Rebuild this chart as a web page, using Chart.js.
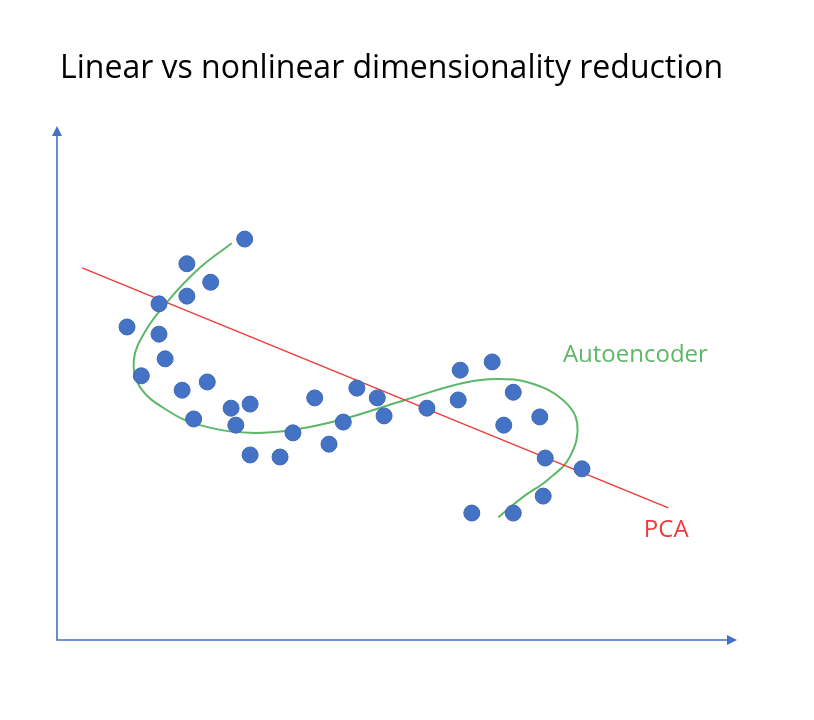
<!DOCTYPE html>
<html>
<head>
<meta charset="utf-8">
<script src="https://cdn.jsdelivr.net/npm/chart.js@4.4.1/dist/chart.umd.min.js"></script>
<style>
  html, body { margin: 0; padding: 0; background: #fff; }
  #wrap { width: 814px; height: 720px; }
</style>
</head>
<body>
<div id="wrap"><canvas id="chart" width="814" height="720"></canvas></div>
<script>
// data points (axis units 0..10)
const pointsX = [2.76, 1.91, 2.26, 1.91, 1.50, 1.03, 1.50, 1.59, 1.24, 1.84, 2.21, 2.01,
                 2.56, 2.84, 2.63, 2.84, 3.28, 3.47, 3.79, 4.00, 4.21, 4.41, 4.71, 4.81,
                 5.44, 5.93, 6.40, 5.90, 6.71, 6.57, 7.10, 7.18, 7.72, 7.15, 6.71, 6.10];
const pointsY = [7.80, 7.32, 6.96, 6.69, 6.54, 6.09, 5.95, 5.47, 5.14, 4.86, 5.02, 4.30,
                 4.51, 4.59, 4.18, 3.60, 3.56, 4.03, 4.71, 3.81, 4.24, 4.90, 4.71, 4.36,
                 4.51, 5.25, 5.41, 4.67, 4.82, 4.18, 4.34, 3.54, 3.33, 2.80, 2.47, 2.47];

// PCA line ends
const pcaX = [0.37, 8.99];
const pcaY = [7.24, 2.57];

// autoencoder curve
const aeX = [2.57, 2.10, 1.62, 1.31, 1.13, 1.22, 1.62, 2.10, 2.84, 3.47, 4.16, 5.12,
             5.97, 6.47, 6.96, 7.44, 7.65, 7.54, 7.21, 6.85, 6.49];
const aeY = [7.72, 7.24, 6.58, 6.03, 5.45, 4.92, 4.47, 4.18, 4.03, 4.09, 4.28, 4.67,
             5.00, 5.08, 5.00, 4.67, 4.22, 3.56, 3.11, 2.78, 2.39];

const titleText = 'Linear vs nonlinear dimensionality reduction';
const aeLabel = 'Autoencoder';
const pcaLabel = 'PCA';

const BLUE = '#4472C4';
const GREEN = '#5cb868';
const RED = '#ee3b3b';

const toXY = (xs, ys) => xs.map((x, i) => ({ x, y: ys[i] }));

// axes with arrow heads, title and the two text labels
const decorPlugin = {
  id: 'decor',
  beforeDatasetsDraw(chart) {
    const { ctx, chartArea: a } = chart;
    ctx.save();
    ctx.strokeStyle = BLUE;
    ctx.fillStyle = BLUE;
    ctx.lineWidth = 1.6;
    ctx.beginPath();
    ctx.moveTo(a.left, a.top + 8);
    ctx.lineTo(a.left, a.bottom);
    ctx.lineTo(a.right - 8, a.bottom);
    ctx.stroke();
    // arrow up
    ctx.beginPath();
    ctx.moveTo(a.left, a.top);
    ctx.lineTo(a.left - 5, a.top + 10);
    ctx.lineTo(a.left + 5, a.top + 10);
    ctx.closePath();
    ctx.fill();
    // arrow right
    ctx.beginPath();
    ctx.moveTo(a.right, a.bottom);
    ctx.lineTo(a.right - 10, a.bottom - 5);
    ctx.lineTo(a.right - 10, a.bottom + 5);
    ctx.closePath();
    ctx.fill();

    // title
    ctx.fillStyle = '#000';
    ctx.font = '32px "Open Sans"';
    ctx.textAlign = 'left';
    ctx.textBaseline = 'alphabetic';
    ctx.fillText(titleText, 60, 78);
    ctx.restore();
  },
  afterDatasetsDraw(chart) {
    const { ctx, scales: { x, y } } = chart;
    ctx.save();
    ctx.font = '24px "Open Sans"';
    ctx.textAlign = 'left';
    ctx.textBaseline = 'alphabetic';
    ctx.fillStyle = GREEN;
    ctx.fillText(aeLabel, x.getPixelForValue(7.44), y.getPixelForValue(5.41));
    ctx.fillStyle = RED;
    ctx.fillText(pcaLabel, x.getPixelForValue(8.63), y.getPixelForValue(2.0));
    ctx.restore();
  }
};

new Chart(document.getElementById('chart'), {
  type: 'scatter',
  data: {
    datasets: [
      {
        label: 'PCA',
        data: toXY(pcaX, pcaY),
        showLine: true,
        borderColor: RED,
        borderWidth: 1.5,
        pointRadius: 0,
        order: 2
      },
      {
        label: 'Autoencoder',
        data: toXY(aeX, aeY),
        showLine: true,
        tension: 0.4,
        borderColor: GREEN,
        borderWidth: 2,
        pointRadius: 0,
        order: 3
      },
      {
        label: 'Data',
        data: toXY(pointsX, pointsY),
        backgroundColor: BLUE,
        borderColor: '#3f68b5',
        borderWidth: 1,
        pointRadius: 8,
        order: 1
      }
    ]
  },
  options: {
    responsive: false,
    animation: false,
    layout: { padding: { top: 126, left: 57, right: 77, bottom: 80 } },
    scales: {
      x: { type: 'linear', min: 0, max: 10, display: false },
      y: { type: 'linear', min: 0, max: 10, display: false }
    },
    plugins: {
      legend: { display: false },
      tooltip: { enabled: false },
      title: { display: false }
    }
  },
  plugins: [decorPlugin]
});
</script>
</body>
</html>
